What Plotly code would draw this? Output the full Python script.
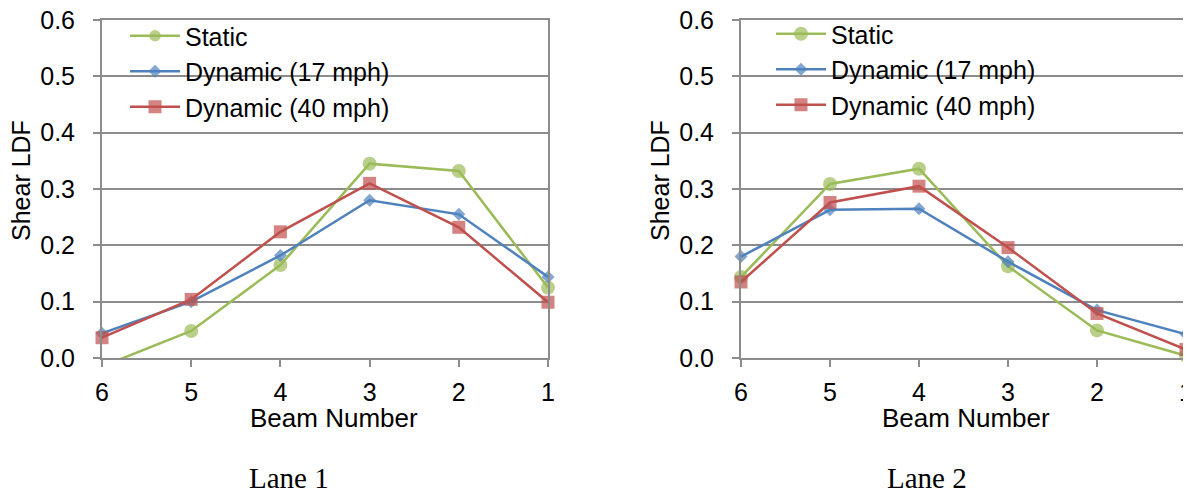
import plotly.graph_objects as go

beams = [6, 5, 4, 3, 2, 1]
series_names = ["Static", "Dynamic (17 mph)", "Dynamic (40 mph)"]

lane1_static = [-0.015, 0.048, 0.165, 0.345, 0.332, 0.125]
lane1_dyn17 = [0.044, 0.100, 0.182, 0.280, 0.255, 0.144]
lane1_dyn40 = [0.036, 0.104, 0.224, 0.310, 0.232, 0.099]

lane2_static = [0.144, 0.309, 0.336, 0.163, 0.049, 0.004]
lane2_dyn17 = [0.180, 0.263, 0.265, 0.171, 0.085, 0.042]
lane2_dyn40 = [0.135, 0.276, 0.305, 0.196, 0.079, 0.015]

y_ticks = [0.0, 0.1, 0.2, 0.3, 0.4, 0.5, 0.6]
panel_titles = ["Lane 1", "Lane 2"]
x_title = "Beam Number"
y_title = "Shear LDF"

colors = ["#9BBB59", "#4F81BD", "#C0504D"]
symbols = ["circle", "diamond", "square"]
base_sizes = [14, 10, 13]
YMIN, YMAX = 0.0, 0.6

FONT = "Liberation Sans, Arial, sans-serif"
GRID = "#8C8C8C"

# page body has an 8px margin: figure is sized/offset to compensate
OFF = 8
W, H = 1191 - OFF, 496 - OFF


def px(rx):
    return (rx - OFF) / W


def py(ry):
    return 1 - (ry - OFF) / H


fig = go.Figure()

lanes = [
    (lane1_static, lane1_dyn17, lane1_dyn40),
    (lane2_static, lane2_dyn17, lane2_dyn40),
]

for li, lane in enumerate(lanes):
    xa = "x" if li == 0 else "x2"
    ya = "y" if li == 0 else "y2"
    leg = "legend" if li == 0 else "legend2"
    for si, vals in enumerate(lane):
        sizes = [base_sizes[si] if (YMIN <= v <= YMAX) else 0 for v in vals]
        fig.add_trace(go.Scatter(
            x=beams, y=vals, name=series_names[si], mode="lines+markers",
            xaxis=xa, yaxis=ya, legend=leg, cliponaxis=False,
            line=dict(color=colors[si], width=2.5),
            marker=dict(symbol=symbols[si], size=sizes, color=colors[si],
                        line=dict(width=0)),
        ))

doms_x = [[px(102), px(548)], [px(741), px(1186)]]
dom_y = [py(358), py(20)]

axis_common = dict(showline=True, linecolor=GRID, linewidth=2, mirror=True,
                   ticks="outside", ticklen=7, tickwidth=1.5, tickcolor=GRID,
                   automargin=False, ticklabeloverflow="allow",
                   tickfont=dict(family=FONT, size=25, color="#000000"))

layout = dict(
    width=W, height=H,
    margin=dict(l=0, r=0, t=0, b=0, autoexpand=False),
    paper_bgcolor="white", plot_bgcolor="white",
    showlegend=True,
)
for i in range(2):
    xs = "xaxis" if i == 0 else "xaxis2"
    ys = "yaxis" if i == 0 else "yaxis2"
    layout[xs] = dict(domain=doms_x[i], range=[6, 1], tickmode="array",
                      tickvals=beams, ticktext=[str(b) for b in beams],
                      showgrid=False, zeroline=False,
                      anchor="y" if i == 0 else "y2",
                      ticklabelstandoff=4, **axis_common)
    layout[ys] = dict(domain=dom_y, range=[YMIN, YMAX], tickmode="array",
                      tickvals=y_ticks, ticktext=[f"{v:.1f}" for v in y_ticks],
                      showgrid=True, gridcolor=GRID, gridwidth=1.5, zeroline=False,
                      anchor="x" if i == 0 else "x2",
                      ticklabelstandoff=13, **axis_common)

legend_common = dict(font=dict(family=FONT, size=25, color="#000000"),
                     bgcolor="rgba(0,0,0,0)", borderwidth=0,
                     itemwidth=50,
                     xanchor="left", yanchor="top", traceorder="normal")
layout["legend"] = dict(x=px(125), y=py(13), **legend_common)
layout["legend2"] = dict(x=px(771), y=py(11), **legend_common)

fig.update_layout(**layout)

ann = []
for i, (cx, tx) in enumerate([(334, 289), (966, 927)]):
    ann.append(dict(text=x_title, x=px(cx), y=py(418), xref="paper", yref="paper",
                    showarrow=False, xanchor="center", yanchor="middle",
                    font=dict(family=FONT, size=26, color="#000000")))
    ann.append(dict(text=panel_titles[i], x=px(tx), y=py(478), xref="paper", yref="paper",
                    showarrow=False, xanchor="center", yanchor="middle",
                    font=dict(family="Liberation Serif, Times New Roman, serif", size=29,
                              color="#000000")))
for cx in [21, 660]:
    ann.append(dict(text=y_title, x=px(cx), y=py(181), xref="paper", yref="paper",
                    showarrow=False, xanchor="center", yanchor="middle", textangle=-90,
                    font=dict(family=FONT, size=25, color="#000000")))
fig.update_layout(annotations=ann)

fig.write_html("out.html")
